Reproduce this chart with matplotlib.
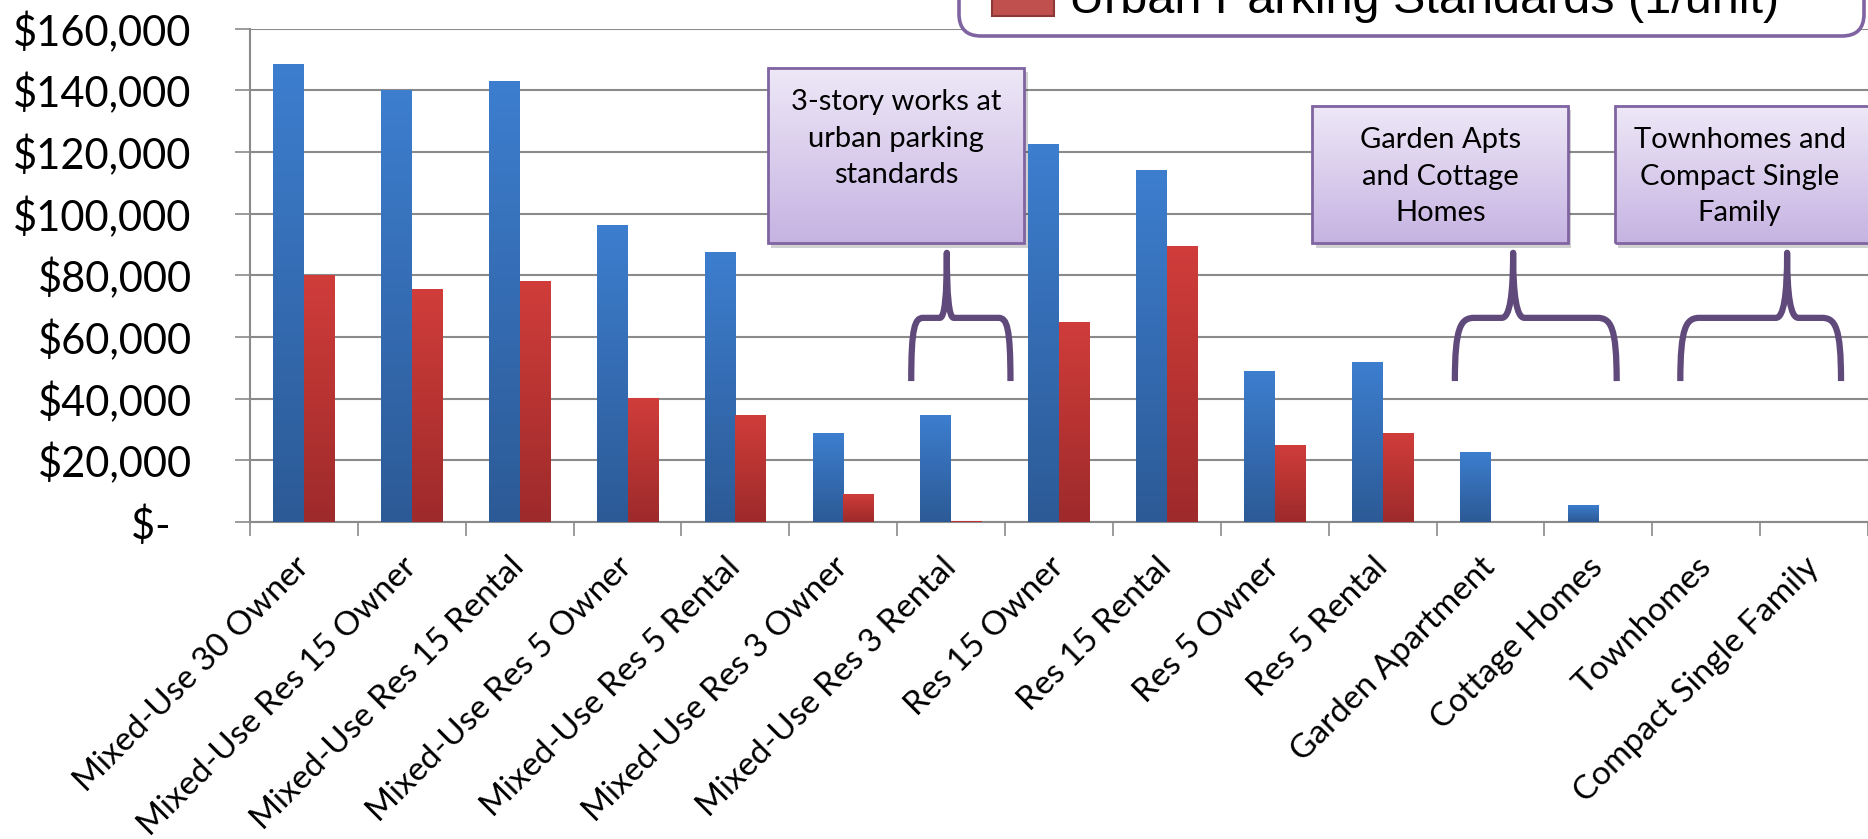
import matplotlib
matplotlib.use("Agg")
import matplotlib.pyplot as plt
import numpy as np
from matplotlib.patches import Rectangle, FancyBboxPatch, PathPatch
from matplotlib.path import Path
from matplotlib.colors import LinearSegmentedColormap
from matplotlib.transforms import IdentityTransform

# ---------------- data ----------------
categories = [
    "Mixed-Use 30 Owner", "Mixed-Use Res 15 Owner", "Mixed-Use Res 15 Rental",
    "Mixed-Use Res 5 Owner", "Mixed-Use Res 5 Rental", "Mixed-Use Res 3 Owner",
    "Mixed-Use Res 3 Rental", "Res 15 Owner", "Res 15 Rental", "Res 5 Owner",
    "Res 5 Rental", "Garden Apartment", "Cottage Homes", "Townhomes",
    "Compact Single Family",
]
suburban_values = [148600, 140200, 143100, 96400, 87700, 28700, 34800,
                   122700, 114300, 49100, 52000, 22800, 5600, 0, 0]
urban_values = [80000, 75400, 78000, 40300, 34800, 9200, 300,
                65000, 89600, 25100, 28700, 0, 0, 0, 0]
ytick_values = [0, 20000, 40000, 60000, 80000, 100000, 120000, 140000, 160000]
ytick_labels = ["$-  ", "$20,000", "$40,000", "$60,000", "$80,000",
                "$100,000", "$120,000", "$140,000", "$160,000"]
legend_label = "Urban Parking Standards (1/unit)"
callout_texts = ["3-story works at\nurban parking\nstandards",
                 "Garden Apts\nand Cottage\nHomes",
                 "Townhomes and\nCompact Single\nFamily"]

# ---------------- style ----------------
W, H, DPI = 1868, 839, 100
GRID = "#8a8a8a"
PURPLE_EDGE = "#8064A2"
BRACE = "#604A7B"
TICK_FONT = "Lato"

fig = plt.figure(figsize=(W / DPI, H / DPI), dpi=DPI)
ax = fig.add_axes([250 / W, 1 - 522 / H, 1 - 250 / W, (522 - 28.6) / H])

n = len(categories)
x = np.arange(n)
bw = 0.285
blue_cmap = LinearSegmentedColormap.from_list("b", ["#2C5A96", "#3D7ECF"])
red_cmap = LinearSegmentedColormap.from_list("r", ["#9E2A2B", "#D03D3A"])
grad = np.linspace(0, 1, 256).reshape(-1, 1)

def gradient_bars(xs, vals, cmap, base_color):
    bars = ax.bar(xs, vals, width=bw, color=base_color, zorder=3, linewidth=0)
    for b in bars:
        h = b.get_height()
        if h <= 0:
            continue
        x0 = b.get_x()
        im = ax.imshow(grad, extent=[x0, x0 + b.get_width(), 0, h], origin="lower",
                       aspect="auto", cmap=cmap, zorder=3.1)
        im.set_clip_path(b)
    return bars

gradient_bars(x - bw / 2, suburban_values, blue_cmap, "#3570B5")
gradient_bars(x + bw / 2, urban_values, red_cmap, "#B83434")

ax.set_xlim(-0.5, n - 0.5)
ax.set_ylim(0, 160000)
ax.set_yticks(ytick_values)
ax.set_yticklabels(ytick_labels, fontsize=30, family=TICK_FONT)
ax.yaxis.grid(True, color=GRID, linewidth=1.5, zorder=0)
ax.set_axisbelow(True)

ax.set_xticks(x)
ax.set_xticklabels(categories, rotation=45, ha="right", va="center",
                   rotation_mode="anchor", fontsize=24, family=TICK_FONT)
ax.tick_params(axis="x", which="major", length=0, pad=29)
ax.set_xticks(np.arange(-0.5, n, 1), minor=True)
ax.tick_params(axis="x", which="minor", length=10, width=1.2, color=GRID, direction="out")
ax.tick_params(axis="y", length=11, width=1.2, color=GRID, pad=31)

for s in ["top", "right"]:
    ax.spines[s].set_visible(False)
ax.spines["left"].set_color(GRID)
ax.spines["bottom"].set_color(GRID)
ax.spines["left"].set_linewidth(1.5)
ax.spines["bottom"].set_linewidth(1.5)

# ---------------- callout boxes ----------------
box_cmap = LinearSegmentedColormap.from_list("p", ["#C6B3E2", "#EEE8F7"])
boxes = [(4.30, 6.68, 90500, 147300), (9.35, 11.72, 90500, 135000),
         (12.15, 14.55, 90500, 135000)]
for (x0, x1, y0, y1) in boxes:
    shadow = Rectangle((x0 + 0.03, y0 - 1500), x1 - x0, y1 - y0, facecolor="#000000",
                       alpha=0.18, edgecolor="none", zorder=4, clip_on=False)
    ax.add_patch(shadow)
    ax.imshow(grad, extent=[x0, x1, y0, y1], origin="lower", aspect="auto",
              cmap=box_cmap, zorder=4.5, clip_on=False)
    rect = Rectangle((x0, y0), x1 - x0, y1 - y0, facecolor="none",
                     edgecolor=PURPLE_EDGE, linewidth=2, zorder=5, clip_on=False)
    ax.add_patch(rect)
ax.set_xlim(-0.5, n - 0.5)
ax.set_ylim(0, 160000)

text_centers_x = [5.49, 10.535, 13.31]
text_first_line_y = [140400, 128000, 128000]
for cx, ty, txt in zip(text_centers_x, text_first_line_y, callout_texts):
    ax.text(cx, ty, txt, ha="center", va="top", fontsize=21, family=TICK_FONT,
            linespacing=1.5, zorder=6, clip_on=False)

# ---------------- braces ----------------
def brace(L, R, P, yb, ym, yt):
    wc = 0.12 * (R - L)
    dp = 0.07 * (R - L)
    verts = [
        (L, yb), (L, ym - 3000), (L + wc * 0.3, ym), (L + wc, ym),
        (P - dp, ym),
        (P - dp * 0.3, ym), (P, ym + 0.35 * (yt - ym)), (P, yt),
        (P, ym + 0.35 * (yt - ym)), (P + dp * 0.3, ym), (P + dp, ym),
        (R - wc, ym),
        (R - wc * 0.3, ym), (R, ym - 3000), (R, yb),
    ]
    codes = [Path.MOVETO, Path.CURVE4, Path.CURVE4, Path.CURVE4, Path.LINETO,
             Path.CURVE4, Path.CURVE4, Path.CURVE4,
             Path.CURVE4, Path.CURVE4, Path.CURVE4, Path.LINETO,
             Path.CURVE4, Path.CURVE4, Path.CURVE4]
    ax.add_patch(PathPatch(Path(verts, codes), facecolor="none", edgecolor=BRACE,
                           linewidth=4.5, zorder=6, clip_on=False, capstyle="butt",
                           joinstyle="round"))

brace(5.63, 6.55, 5.96, 45700, 66200, 87300)
brace(10.67, 12.17, 11.21, 45700, 66200, 87300)
brace(12.76, 14.25, 13.75, 45700, 66200, 87300)

# ---------------- legend (clipped at top) ----------------
ident = IdentityTransform()
leg = FancyBboxPatch((959, H - 36), 905, 120, boxstyle="round,pad=0,rounding_size=22",
                     facecolor="white", edgecolor=PURPLE_EDGE, linewidth=2.6,
                     transform=ident, zorder=10)
fig.patches.append(leg)
sw = Rectangle((992, H - 16), 62, 60, facecolor="#C0504D", edgecolor="#8C3836",
               linewidth=1.5, transform=ident, zorder=11)
fig.patches.append(sw)
fig.text(1069 / W, 1 - 13 / H, legend_label, fontsize=35, family="Liberation Sans",
         ha="left", va="baseline", zorder=12)

fig.savefig("out.png", dpi=DPI)
